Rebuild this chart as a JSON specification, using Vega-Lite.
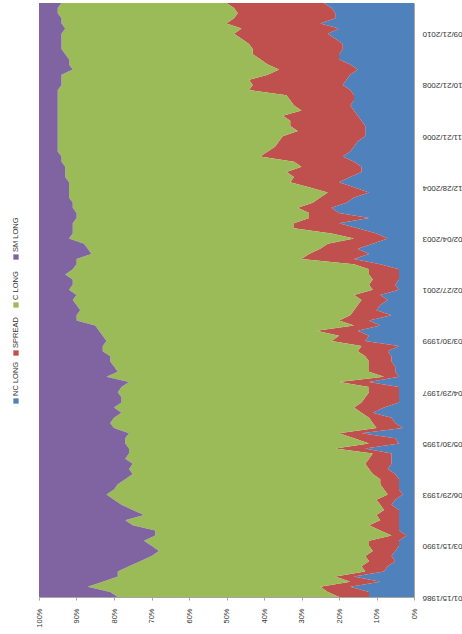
{
  "$schema": "https://vega.github.io/schema/vega-lite/v6.json",
  "padding": {"left": 5, "top": 3, "right": 0, "bottom": 0},
  "background": "white",
  "spacing": 8,
  "config": {"view": {"stroke": null}, "font": "Liberation Sans"},
  "datasets": {
    "legend": [
      {"series": "NC LONG", "k": 1},
      {"series": "SPREAD", "k": 2},
      {"series": "C LONG", "k": 3},
      {"series": "SM LONG", "k": 4}
    ]
  },
  "hconcat": [
    {
      "width": 22,
      "height": 594,
      "data": {"name": "legend"},
      "encoding": {
        "y": {"field": "k", "type": "quantitative", "scale": {"domain": [-3.083, 9.292], "nice": false, "zero": false}, "axis": null},
        "color": {"field": "series", "type": "nominal", "scale": {"domain": ["NC LONG", "SPREAD", "C LONG", "SM LONG"], "range": ["#4F81BD", "#C0504D", "#9BBB59", "#8064A2"]}, "legend": null}
      },
      "layer": [
        {"mark": {"type": "point", "shape": "square", "filled": true, "size": 28, "opacity": 1}},
        {"mark": {"type": "text", "angle": -90, "align": "left", "baseline": "middle", "dx": 5, "fontSize": 7.5}, "encoding": {"text": {"field": "series"}, "color": {"value": "#333333"}}}
      ]
    },
    {
      "width": 375,
      "height": 594,
      "data": {"values": [
        {"i":0,"NC LONG":12,"SPREAD":8,"C LONG":59,"SM LONG":21},
        {"i":1,"NC LONG":12,"SPREAD":11,"C LONG":58,"SM LONG":19},
        {"i":2,"NC LONG":17,"SPREAD":8,"C LONG":62,"SM LONG":13},
        {"i":3,"NC LONG":9,"SPREAD":8,"C LONG":66,"SM LONG":17},
        {"i":4,"NC LONG":16,"SPREAD":5,"C LONG":58,"SM LONG":21},
        {"i":5,"NC LONG":8,"SPREAD":5,"C LONG":66,"SM LONG":21},
        {"i":6,"NC LONG":7,"SPREAD":7,"C LONG":62,"SM LONG":24},
        {"i":7,"NC LONG":5,"SPREAD":7,"C LONG":61,"SM LONG":27},
        {"i":8,"NC LONG":6,"SPREAD":7,"C LONG":57,"SM LONG":30},
        {"i":9,"NC LONG":5,"SPREAD":6,"C LONG":57,"SM LONG":32},
        {"i":10,"NC LONG":4,"SPREAD":8,"C LONG":58,"SM LONG":30},
        {"i":11,"NC LONG":4,"SPREAD":8,"C LONG":60,"SM LONG":28},
        {"i":12,"NC LONG":2,"SPREAD":4,"C LONG":63,"SM LONG":31},
        {"i":13,"NC LONG":4,"SPREAD":5,"C LONG":60,"SM LONG":31},
        {"i":14,"NC LONG":4,"SPREAD":8,"C LONG":63,"SM LONG":25},
        {"i":15,"NC LONG":4,"SPREAD":5,"C LONG":68,"SM LONG":23},
        {"i":16,"NC LONG":4,"SPREAD":6,"C LONG":62,"SM LONG":28},
        {"i":17,"NC LONG":4,"SPREAD":4,"C LONG":67,"SM LONG":25},
        {"i":18,"NC LONG":6,"SPREAD":3,"C LONG":69,"SM LONG":22},
        {"i":19,"NC LONG":5,"SPREAD":5,"C LONG":70,"SM LONG":20},
        {"i":20,"NC LONG":3,"SPREAD":4,"C LONG":75,"SM LONG":18},
        {"i":21,"NC LONG":4,"SPREAD":4,"C LONG":72,"SM LONG":20},
        {"i":22,"NC LONG":4,"SPREAD":5,"C LONG":70,"SM LONG":21},
        {"i":23,"NC LONG":4,"SPREAD":5,"C LONG":68,"SM LONG":23},
        {"i":24,"NC LONG":5,"SPREAD":6,"C LONG":64,"SM LONG":25},
        {"i":25,"NC LONG":7,"SPREAD":5,"C LONG":64,"SM LONG":24},
        {"i":26,"NC LONG":6,"SPREAD":7,"C LONG":62,"SM LONG":25},
        {"i":27,"NC LONG":6,"SPREAD":6,"C LONG":65,"SM LONG":23},
        {"i":28,"NC LONG":6,"SPREAD":5,"C LONG":65,"SM LONG":24},
        {"i":29,"NC LONG":13,"SPREAD":8,"C LONG":55,"SM LONG":24},
        {"i":30,"NC LONG":4,"SPREAD":8,"C LONG":65,"SM LONG":23},
        {"i":31,"NC LONG":5,"SPREAD":11,"C LONG":61,"SM LONG":23},
        {"i":32,"NC LONG":14,"SPREAD":6,"C LONG":56,"SM LONG":24},
        {"i":33,"NC LONG":3,"SPREAD":7,"C LONG":70,"SM LONG":20},
        {"i":34,"NC LONG":5,"SPREAD":6,"C LONG":70,"SM LONG":19},
        {"i":35,"NC LONG":6,"SPREAD":6,"C LONG":68,"SM LONG":20},
        {"i":36,"NC LONG":11,"SPREAD":3,"C LONG":64,"SM LONG":22},
        {"i":37,"NC LONG":8,"SPREAD":8,"C LONG":64,"SM LONG":20},
        {"i":38,"NC LONG":4,"SPREAD":10,"C LONG":64,"SM LONG":22},
        {"i":39,"NC LONG":4,"SPREAD":9,"C LONG":65,"SM LONG":22},
        {"i":40,"NC LONG":4,"SPREAD":8,"C LONG":67,"SM LONG":21},
        {"i":41,"NC LONG":4,"SPREAD":8,"C LONG":66,"SM LONG":22},
        {"i":42,"NC LONG":12,"SPREAD":8,"C LONG":56,"SM LONG":24},
        {"i":43,"NC LONG":4,"SPREAD":4,"C LONG":74,"SM LONG":18},
        {"i":44,"NC LONG":5,"SPREAD":7,"C LONG":67,"SM LONG":21},
        {"i":45,"NC LONG":5,"SPREAD":7,"C LONG":68,"SM LONG":20},
        {"i":46,"NC LONG":6,"SPREAD":6,"C LONG":69,"SM LONG":19},
        {"i":47,"NC LONG":6,"SPREAD":7,"C LONG":68,"SM LONG":19},
        {"i":48,"NC LONG":7,"SPREAD":8,"C LONG":68,"SM LONG":17},
        {"i":49,"NC LONG":4,"SPREAD":10,"C LONG":69,"SM LONG":17},
        {"i":50,"NC LONG":13,"SPREAD":9,"C LONG":60,"SM LONG":18},
        {"i":51,"NC LONG":12,"SPREAD":8,"C LONG":63,"SM LONG":17},
        {"i":52,"NC LONG":15,"SPREAD":11,"C LONG":58,"SM LONG":16},
        {"i":53,"NC LONG":9,"SPREAD":7,"C LONG":69,"SM LONG":15},
        {"i":54,"NC LONG":12,"SPREAD":8,"C LONG":70,"SM LONG":10},
        {"i":55,"NC LONG":6,"SPREAD":11,"C LONG":73,"SM LONG":10},
        {"i":56,"NC LONG":10,"SPREAD":6,"C LONG":73,"SM LONG":11},
        {"i":57,"NC LONG":9,"SPREAD":6,"C LONG":75,"SM LONG":10},
        {"i":58,"NC LONG":7,"SPREAD":7,"C LONG":77,"SM LONG":9},
        {"i":59,"NC LONG":9,"SPREAD":7,"C LONG":74,"SM LONG":10},
        {"i":60,"NC LONG":4,"SPREAD":7,"C LONG":81,"SM LONG":8},
        {"i":61,"NC LONG":5,"SPREAD":7,"C LONG":79,"SM LONG":9},
        {"i":62,"NC LONG":4,"SPREAD":7,"C LONG":80,"SM LONG":9},
        {"i":63,"NC LONG":4,"SPREAD":8,"C LONG":81,"SM LONG":7},
        {"i":64,"NC LONG":4,"SPREAD":8,"C LONG":79,"SM LONG":9},
        {"i":65,"NC LONG":9,"SPREAD":7,"C LONG":74,"SM LONG":10},
        {"i":66,"NC LONG":16,"SPREAD":14,"C LONG":60,"SM LONG":10},
        {"i":67,"NC LONG":12,"SPREAD":16,"C LONG":58,"SM LONG":14},
        {"i":68,"NC LONG":15,"SPREAD":10,"C LONG":62,"SM LONG":13},
        {"i":69,"NC LONG":11,"SPREAD":12,"C LONG":65,"SM LONG":12},
        {"i":70,"NC LONG":7,"SPREAD":9,"C LONG":76,"SM LONG":8},
        {"i":71,"NC LONG":10,"SPREAD":12,"C LONG":69,"SM LONG":9},
        {"i":72,"NC LONG":15,"SPREAD":17,"C LONG":59,"SM LONG":9},
        {"i":73,"NC LONG":20,"SPREAD":12,"C LONG":59,"SM LONG":9},
        {"i":74,"NC LONG":12,"SPREAD":16,"C LONG":62,"SM LONG":10},
        {"i":75,"NC LONG":20,"SPREAD":8,"C LONG":62,"SM LONG":10},
        {"i":76,"NC LONG":22,"SPREAD":9,"C LONG":60,"SM LONG":9},
        {"i":77,"NC LONG":18,"SPREAD":9,"C LONG":64,"SM LONG":9},
        {"i":78,"NC LONG":16,"SPREAD":9,"C LONG":67,"SM LONG":8},
        {"i":79,"NC LONG":12,"SPREAD":11,"C LONG":69,"SM LONG":8},
        {"i":80,"NC LONG":16,"SPREAD":12,"C LONG":64,"SM LONG":8},
        {"i":81,"NC LONG":20,"SPREAD":13,"C LONG":59,"SM LONG":8},
        {"i":82,"NC LONG":17,"SPREAD":15,"C LONG":61,"SM LONG":7},
        {"i":83,"NC LONG":14,"SPREAD":20,"C LONG":59,"SM LONG":7},
        {"i":84,"NC LONG":14,"SPREAD":16,"C LONG":63,"SM LONG":7},
        {"i":85,"NC LONG":16,"SPREAD":16,"C LONG":62,"SM LONG":6},
        {"i":86,"NC LONG":19,"SPREAD":22,"C LONG":53,"SM LONG":6},
        {"i":87,"NC LONG":17,"SPREAD":22,"C LONG":56,"SM LONG":5},
        {"i":88,"NC LONG":16,"SPREAD":21,"C LONG":58,"SM LONG":5},
        {"i":89,"NC LONG":15,"SPREAD":21,"C LONG":59,"SM LONG":5},
        {"i":90,"NC LONG":13,"SPREAD":22,"C LONG":60,"SM LONG":5},
        {"i":91,"NC LONG":13,"SPREAD":18,"C LONG":64,"SM LONG":5},
        {"i":92,"NC LONG":13,"SPREAD":20,"C LONG":62,"SM LONG":5},
        {"i":93,"NC LONG":14,"SPREAD":19,"C LONG":62,"SM LONG":5},
        {"i":94,"NC LONG":15,"SPREAD":20,"C LONG":60,"SM LONG":5},
        {"i":95,"NC LONG":16,"SPREAD":14,"C LONG":65,"SM LONG":5},
        {"i":96,"NC LONG":17,"SPREAD":15,"C LONG":63,"SM LONG":5},
        {"i":97,"NC LONG":16,"SPREAD":17,"C LONG":62,"SM LONG":5},
        {"i":98,"NC LONG":16,"SPREAD":18,"C LONG":61,"SM LONG":5},
        {"i":99,"NC LONG":17,"SPREAD":27,"C LONG":51,"SM LONG":5},
        {"i":100,"NC LONG":19,"SPREAD":24,"C LONG":51,"SM LONG":6},
        {"i":101,"NC LONG":18,"SPREAD":26,"C LONG":50,"SM LONG":6},
        {"i":102,"NC LONG":17,"SPREAD":22,"C LONG":55,"SM LONG":6},
        {"i":103,"NC LONG":15,"SPREAD":21,"C LONG":55,"SM LONG":9},
        {"i":104,"NC LONG":17,"SPREAD":22,"C LONG":53,"SM LONG":8},
        {"i":105,"NC LONG":20,"SPREAD":21,"C LONG":51,"SM LONG":8},
        {"i":106,"NC LONG":20,"SPREAD":23,"C LONG":50,"SM LONG":7},
        {"i":107,"NC LONG":19,"SPREAD":24,"C LONG":51,"SM LONG":6},
        {"i":108,"NC LONG":19,"SPREAD":25,"C LONG":50,"SM LONG":6},
        {"i":109,"NC LONG":21,"SPREAD":25,"C LONG":48,"SM LONG":6},
        {"i":110,"NC LONG":23,"SPREAD":25,"C LONG":46,"SM LONG":6},
        {"i":111,"NC LONG":20,"SPREAD":26,"C LONG":47,"SM LONG":7},
        {"i":112,"NC LONG":25,"SPREAD":25,"C LONG":44,"SM LONG":6},
        {"i":113,"NC LONG":21,"SPREAD":27,"C LONG":46,"SM LONG":6},
        {"i":114,"NC LONG":21,"SPREAD":26,"C LONG":48,"SM LONG":5},
        {"i":115,"NC LONG":22,"SPREAD":26,"C LONG":47,"SM LONG":5},
        {"i":116,"NC LONG":24,"SPREAD":26,"C LONG":44,"SM LONG":6}
      ]},
      "transform": [
        {"fold": ["NC LONG", "SPREAD", "C LONG", "SM LONG"], "as": ["series", "value"]},
        {"lookup": "series", "from": {"data": {"name": "legend"}, "key": "series", "fields": ["k"]}}
      ],
      "mark": {"type": "area", "orient": "horizontal"},
      "encoding": {
        "y": {
          "field": "i", "type": "quantitative",
          "scale": {"domain": [0, 116], "nice": false, "zero": false},
          "axis": {
            "orient": "right", "title": null,
            "values": [0, 10, 20, 30, 40, 50, 60, 70, 80, 90, 100, 110],
            "labelExpr": "['01/15/1986','03/15/1990','06/29/1993','05/30/1995','04/29/1997','03/30/1999','02/27/2001','02/04/2003','12/28/2004','11/21/2006','10/21/2008','09/21/2010'][round(datum.value/10)]",
            "labelAngle": 180, "labelAlign": "right", "labelBaseline": "middle",
            "labelPadding": 8, "ticks": false, "grid": false,
            "domainColor": "#a6a6a6", "labelFontSize": 8, "labelColor": "#333333",
            "labelOverlap": false, "labelFlush": false
          }
        },
        "x": {
          "field": "value", "type": "quantitative", "stack": "normalize",
          "scale": {"reverse": true},
          "axis": {
            "orient": "bottom", "title": null,
            "values": [0, 0.1, 0.2, 0.3, 0.4, 0.5, 0.6, 0.7, 0.8, 0.9, 1],
            "format": ".0%", "labelAngle": -90, "labelAlign": "right", "labelBaseline": "middle",
            "labelPadding": 8, "tickSize": 3, "tickColor": "#a6a6a6", "domainColor": "#a6a6a6",
            "grid": true, "gridColor": "#d9d9d9", "labelFontSize": 7.5, "labelColor": "#333333",
            "labelFlush": false, "labelOverlap": false
          }
        },
        "order": {"field": "k", "type": "quantitative", "sort": "ascending"},
        "color": {
          "field": "series", "type": "nominal",
          "scale": {"domain": ["NC LONG", "SPREAD", "C LONG", "SM LONG"], "range": ["#4F81BD", "#C0504D", "#9BBB59", "#8064A2"]},
          "legend": null
        }
      }
    }
  ]
}
